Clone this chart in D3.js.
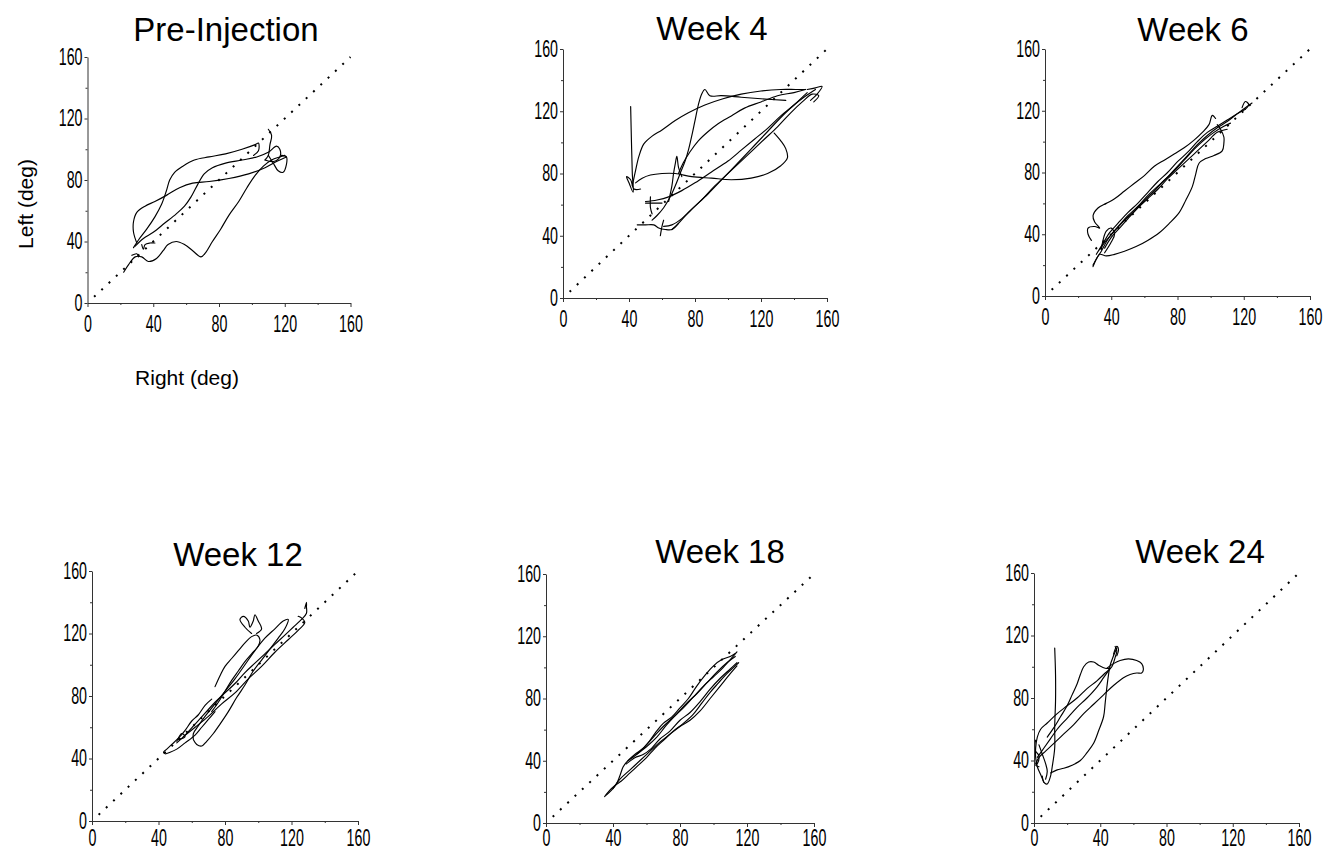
<!DOCTYPE html>
<html>
	<head>
		<title>Left vs Right joint angle</title>
		<style>
			body, html {
				margin: 0;
				background: #fff;
			}
			text {
				font-family: 'Liberation Sans', Arial, sans-serif;
				fill: #000;
			}
			.trace {
				fill: none;
				stroke: #000;
				stroke-width: 1.15px;
				stroke-linejoin: round;
				stroke-linecap: round;
			}
			.identity {
				fill: none;
				stroke: #000;
				stroke-width: 2px;
				stroke-dasharray: 2 8;
			}
		</style>
	</head>
	<body>

		<svg id="svg" width="1327" height="852"></svg>

		<script src="https://d3js.org/d3.v7.min.js"></script>
		<script>
			// Titles, ticks and the dotted identity line
			const panelTitles = ['Pre-Injection', 'Week 4', 'Week 6', 'Week 12', 'Week 18', 'Week 24']
			const tickValues = [0, 40, 80, 120, 160]
			const minorTicks = [20, 60, 100, 140]
			const identityLine = [[4, 4], [160, 160]]

			// Each trace is a list of strokes, points are [right (deg), left (deg)]
			const preInjection = [
				[[22,20],[25,25],[29,30],[33,30],[37,27],[42,29],[46,34],[49,38],[54,40],[59,38],[64,34],[69,30],[72,33],[76,40],[81,48],[86,57],[92,66],[97,75],[102,83],[107,89],[112,93],[117,95],[120,96]],
				[[28,36],[31,41],[36,48],[41,56],[45,64],[48,73],[50,80],[53,85],[58,89],[65,93],[74,95],[84,97],[94,100],[102,103],[104,104],[104,99],[101,96]],
				[[30,39],[28,46],[28,53],[30,59],[35,63],[41,66],[48,70],[56,75],[64,78],[74,79],[86,81],[98,84],[108,88],[115,92],[121,95]],
				[[29,37],[34,42],[40,46],[47,52],[54,58],[59,63],[63,69],[67,77],[71,84],[76,88],[84,91],[94,93],[103,95],[110,98],[115,102],[117,100],[117,95],[113,92],[108,93]],
				[[110,113],[112,109],[111,103],[110,96],[108,93]],
				[[110,96],[113,91],[116,86],[119,85],[121,90],[121,95],[118,96]],
				[[27,31],[30,32],[31,30]],
				[[33,38],[34,35],[35,38],[38,39],[41,39]]
			]

			const week4 = [
				[[41,123],[41.5,100],[42,80],[42.5,68],[40,74],[38.5,78],[41,76],[43,70],[47,70]],
				[[42,72],[44,82],[46,91],[49,99],[54,104],[60,108],[68,114],[76,119],[86,124],[97,128],[108,131],[120,133],[132,134],[141,134],[147,134]],
				[[135,127],[120,128],[108,129],[96,130],[89,130],[86,134],[84,131],[82,124],[80,114],[78,104],[76,95],[74,88],[71,80],[68,72],[65,65],[61,58],[57,53],[54,50]],
				[[44,74],[48,77],[53,79],[60,80],[68,80],[78,78],[90,77],[102,76],[114,77],[124,80],[132,85],[136,90],[135,96],[132,101],[128,106]],
				[[50,62],[57,63],[64,65],[72,69],[80,74],[90,81],[100,88],[108,95],[116,102],[124,109],[132,117],[140,124],[146,130],[148,132]],
				[[61,46],[66,47],[72,51],[80,59],[88,67],[98,78],[108,89],[116,98],[124,107],[132,116],[140,124],[146,129],[153,134]],
				[[66,44],[70,48],[76,55],[84,63],[92,72],[102,82],[112,92],[122,102],[130,110],[138,119],[145,126],[151,131],[155,130],[152,126]],
				[[70,80],[73,87],[77,94],[82,101],[88,107],[94,112],[102,117],[110,122],[120,126],[130,130],[140,132],[147,134]],
				[[64,62],[66,72],[67,80],[68,86],[69,91],[70,84],[72,78]],
				[[45,47],[50,47],[55,47],[58,45],[62,44],[66,44],[70,48]],
				[[50,61],[56,61],[60,61]],
				[[53,65],[53,58],[54,54]],
				[[59,40],[60,46],[61,50]],
				[[148,134],[153,135],[157,136],[154,131],[150,127]]
			]

			const week6 = [
				[[29,20],[31,24],[33,27],[37,26],[42,27],[48,29],[55,32],[62,36],[69,41],[75,47],[81,54],[85,62],[89,71],[91,79],[93,86],[97,89],[102,91],[107,94],[108,99],[108,103],[106,108],[104,111]],
				[[28,36],[26,40],[26,44],[30,45],[33,44],[30,48],[29,52],[32,57],[37,60],[42,63],[48,68],[54,73],[60,78],[66,84],[72,88],[78,92],[84,96],[90,101],[95,106],[99,111],[101,117],[103,115]],
				[[29,19],[31,24],[34,29],[37,35],[40,40],[45,46],[50,52],[56,58],[62,65],[68,71],[74,77],[80,84],[86,91],[92,98],[98,104],[104,109],[110,113],[116,118],[121,122],[125,125]],
				[[31,27],[35,34],[39,41],[44,47],[50,54],[56,60],[62,67],[68,74],[74,80],[80,87],[86,93],[92,100],[98,106],[104,110],[110,114],[116,118],[121,121]],
				[[33,30],[37,36],[42,42],[48,49],[54,55],[60,62],[66,68],[72,75],[78,81],[84,88],[90,95],[96,101],[102,106],[108,110],[112,112]],
				[[36,31],[40,38],[45,44],[50,50],[56,57],[62,63],[68,69],[74,76],[80,82],[86,88],[92,94],[98,100],[104,106],[110,108]],
				[[36,28],[40,35],[42,40],[40,44],[37,42],[35,36],[34,30]],
				[[119,122],[121,126],[123,124],[121,121]]
			]

			const week12 = [
				[[74,86],[77,93],[80,99],[84,104],[88,109],[92,114],[96,118],[99,119],[101,116],[100,112],[96,107],[92,102],[88,96],[84,90],[80,83],[76,76],[72,70]],
				[[96,120],[92,124],[89,129],[91,131],[94,128],[95,124],[97,128],[98,132],[100,128],[102,123],[99,120]],
				[[72,78],[68,74],[64,68],[60,64],[56,58],[52,53],[48,49],[45,46],[43,44],[44,43],[47,44],[51,46],[56,50],[62,55],[66,60],[70,65],[74,70]],
				[[61,52],[63,49],[66,48],[69,51],[73,56],[77,62],[82,70],[87,79],[92,87],[97,96],[102,103],[107,110],[112,117],[116,123],[118,129],[115,128],[110,123],[104,117],[98,109],[92,100],[86,91],[80,83],[74,75],[68,67],[64,61],[61,56],[61,52]],
				[[51,50],[56,55],[62,62],[68,69],[74,76],[80,82],[86,88],[92,95],[98,101],[104,107],[110,113],[116,119],[121,124],[126,129],[129,133],[129,137],[129,140],[128,136]],
				[[55,54],[62,60],[70,67],[78,75],[86,82],[94,91],[102,99],[110,108],[118,116],[124,122],[128,127],[126,130],[124,131]],
				[[52,52],[56,54],[54,56],[51,51]]
			]

			const week18 = [
				[[35,17],[38,21],[41,24],[45,27],[50,32],[55,37],[60,42],[65,48],[70,53],[76,59],[82,64],[88,70],[93,77],[98,84],[103,90],[108,96],[112,100],[115,103]],
				[[36,18],[39,21],[42,25],[44,30],[46,36],[48,39],[53,44],[58,48],[64,55],[70,62],[76,68],[82,74],[88,81],[94,88],[100,94],[105,99],[110,105],[114,110]],
				[[49,40],[54,44],[58,48],[62,53],[66,59],[70,64],[75,68],[80,74],[85,80],[90,88],[95,95],[100,101],[105,105],[110,107],[113,109]],
				[[48,38],[53,42],[58,44],[63,48],[68,54],[74,59],[80,66],[86,71],[92,78],[98,86],[104,93],[110,99],[114,103]],
				[[54,44],[60,49],[66,55],[72,63],[78,70],[84,77],[90,83],[96,90],[102,97],[108,103],[113,107]],
				[[40,22],[44,28],[50,34],[56,40],[62,46],[68,52],[74,57],[80,62],[86,66],[92,72],[98,80],[104,88],[110,96],[114,101]]
			]

			const week24 = [
				[[12.5,112],[13,95],[13,78],[12.5,62],[12.5,48],[11,36],[10,30],[8,25],[6,26],[5,30]],
				[[6,26],[4,31],[2,36],[1,42],[1,48],[2,55],[4,60],[8,64],[14,70],[20,75],[26,80],[32,86],[38,91],[43,96],[47,100],[49,106],[50,110],[49,113]],
				[[10,32],[14,34],[18,35],[23,37],[28,40],[32,45],[36,51],[39,59],[42,68],[43,77],[44,87],[45,95],[46,101],[48,107],[50,112]],
				[[8,55],[12,61],[16,68],[20,75],[23,82],[26,89],[28,95],[30,100],[33,103],[36,103],[39,101],[43,99],[46,99]],
				[[44,99],[48,102],[52,104],[57,105],[62,104],[65,102],[66,98],[65,96],[62,96],[58,95],[54,93],[48,88],[42,82],[36,76],[30,70],[24,63],[18,57],[12,51],[7,46],[3,42],[1,38]],
				[[2,42],[6,48],[10,54],[14,60],[20,67],[26,74],[32,80],[38,87],[42,93],[46,99]],
				[[1,53],[0.5,50],[1,46],[3,43],[2,38],[1,37],[3,36]],
				[[3,50],[5,44],[7,38],[8,33],[7,28]],
				[[48,108],[50,113],[51,111],[50,107]]
			]

			const traces = [preInjection, week4, week6, week12, week18, week24]

			// Where each little plot sits on the page (axis box + title spot)
			const panels = [
				{ left: 87.5, right: 350.5, top: 57, bottom: 303, titleX: 226, titleY: 41 },
				{ left: 563, right: 827, top: 49, bottom: 298, titleX: 712, titleY: 40 },
				{ left: 1045, right: 1310, top: 49, bottom: 296, titleX: 1193, titleY: 41 },
				{ left: 92, right: 358, top: 571, bottom: 821, titleX: 238, titleY: 566 },
				{ left: 546, right: 814, top: 574, bottom: 823, titleX: 720, titleY: 563 },
				{ left: 1034, right: 1299, top: 573, bottom: 823, titleX: 1200, titleY: 563 }
			]

			const svg = d3.select('#svg')
			const pageHeight = 852
			const condense = 0.62
			const tickFont = 23

			panels.forEach((p, i) => {
				const w = p.right - p.left
				const h = p.bottom - p.top

				const x = d3.scaleLinear().domain([0, 160]).range([0, w])
				const y = d3.scaleLinear().domain([0, 160]).range([h, 0])

				// Title
				svg.append('text')
					.attr('x', p.titleX)
					.attr('y', p.titleY)
					.attr('text-anchor', 'middle')
					.attr('font-size', 33)
					.text(panelTitles[i])

				const g = svg.append('g')
					.attr('transform', `translate(${p.left},${p.top})`)

				// Dotted line of equality
				const line = d3.line()
					.x(d => x(d[0]))
					.y(d => y(d[1]))

				g.append('path')
					.attr('class', 'identity')
					.attr('d', line(identityLine))

				// The traces themselves
				const smooth = d3.line()
					.x(d => x(d[0]))
					.y(d => y(d[1]))
					.curve(d3.curveCatmullRom.alpha(0.5))

				g.selectAll('.trace')
					.data(traces[i])
					.enter()
					.append('path')
					.attr('class', 'trace')
					.attr('d', smooth)

				// Minor ticks first, major axis on top
				g.append('g')
					.attr('transform', `translate(0,${h})`)
					.call(d3.axisBottom(x).tickValues(minorTicks).tickSize(2).tickFormat(''))
					.call(a => a.select('.domain').remove())
				g.append('g')
					.call(d3.axisLeft(y).tickValues(minorTicks).tickSize(2).tickFormat(''))
					.call(a => a.select('.domain').remove())

				// keep the bottom row's labels inside the page
				const pad = Math.min(9, pageHeight - p.bottom - 4 - 0.93 * tickFont - 1)

				const xAxis = g.append('g')
					.attr('transform', `translate(0,${h})`)
					.call(d3.axisBottom(x).tickValues(tickValues).tickSize(4).tickSizeOuter(0).tickPadding(pad))
				xAxis.selectAll('text')
					.attr('transform', `scale(${condense},1)`)

				const yAxis = g.append('g')
					.call(d3.axisLeft(y).tickValues(tickValues).tickSize(3).tickSizeOuter(0).tickPadding(2))
				yAxis.selectAll('text')
					.attr('x', -5 / condense)
					.attr('transform', `scale(${condense},1)`)

				g.selectAll('.tick line, .domain').attr('stroke', '#333')
				g.selectAll('.tick text')
					.attr('font-size', tickFont)
					.attr('font-family', "'Liberation Sans', Arial, sans-serif")
			})

			// Axis names only on the first plot
			svg.append('text')
				.attr('transform', 'translate(33,204) rotate(-90)')
				.attr('text-anchor', 'middle')
				.attr('font-size', 21)
				.text('Left (deg)')

			svg.append('text')
				.attr('x', 187)
				.attr('y', 385)
				.attr('text-anchor', 'middle')
				.attr('font-size', 21)
				.text('Right (deg)')
		</script>
	</body>
</html>
